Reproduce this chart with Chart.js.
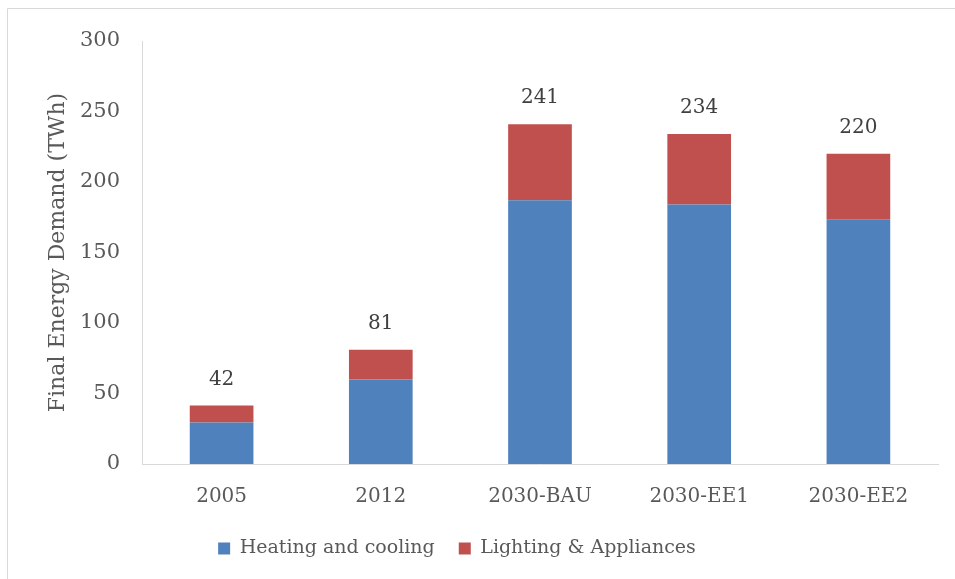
<!DOCTYPE html>
<html>
<head>
<meta charset="utf-8">
<script src="https://cdn.jsdelivr.net/npm/chart.js@4.4.1/dist/chart.umd.min.js"></script>
<style>
html,body{margin:0;padding:0;background:#fff;}
#wrap{width:955px;height:579px;position:relative;}
</style>
</head>
<body>
<div id="wrap"><canvas id="c" width="955" height="579"></canvas></div>
<script>
const categories = ['2005', '2012', '2030-BAU', '2030-EE1', '2030-EE2'];
const heatingCooling = [29.5, 60, 187, 184, 173.5];
const lightingAppliances = [12, 21, 54, 50, 46.5];
const totals = [42, 81, 241, 234, 220];
const yTicks = [0, 50, 100, 150, 200, 250, 300];

const FONT = "'DejaVu Serif', serif";
const TXT = '#595959';

const frame = {
  id: 'frame',
  beforeDraw(chart) {
    const ctx = chart.ctx;
    ctx.save();
    ctx.strokeStyle = '#D9D9D9';
    ctx.lineWidth = 1;
    ctx.beginPath();
    ctx.moveTo(7.5, 579);
    ctx.lineTo(7.5, 8.5);
    ctx.lineTo(955, 8.5);
    ctx.stroke();
    ctx.restore();
  }
};

const totalsLabels = {
  id: 'totalsLabels',
  afterDatasetsDraw(chart) {
    const ctx = chart.ctx;
    const meta = chart.getDatasetMeta(1);
    ctx.save();
    ctx.font = '20px ' + FONT;
    ctx.fillStyle = '#404040';
    ctx.textAlign = 'center';
    ctx.textBaseline = 'middle';
    meta.data.forEach((bar, i) => {
      ctx.fillText(String(totals[i]), bar.x, bar.y - 26);
    });
    ctx.restore();
  }
};

const legendShift = {
  id: 'legendShift',
  afterLayout(chart) {
    const lg = chart.legend;
    if (lg) { lg.left -= 16; lg.right -= 16; }
  }
};

new Chart(document.getElementById('c'), {
  type: 'bar',
  data: {
    labels: categories,
    datasets: [
      { label: 'Heating and cooling', data: heatingCooling, backgroundColor: '#4F81BD' },
      { label: 'Lighting & Appliances', data: lightingAppliances, backgroundColor: '#C0504D' }
    ]
  },
  options: {
    responsive: false,
    animation: false,
    devicePixelRatio: 1,
    layout: { padding: { left: 8, top: 41, right: 17, bottom: 11 } },
    plugins: {
      tooltip: { enabled: false },
      legend: {
        position: 'bottom',
        labels: {
          font: { family: FONT, size: 19 },
          color: TXT,
          boxWidth: 12,
          boxHeight: 12,
          padding: 24
        }
      }
    },
    datasets: { bar: { categoryPercentage: 1, barPercentage: 0.4 } },
    scales: {
      x: {
        stacked: true,
        grid: { display: false, drawTicks: false },
        border: { color: '#D9D9D9', width: 1 },
        ticks: { font: { family: FONT, size: 20 }, color: TXT, padding: 21 },
        afterFit(s) { s.height = 51; }
      },
      y: {
        stacked: true,
        min: 0, max: 300,
        afterBuildTicks(s) { s.ticks = yTicks.map(v => ({ value: v })); },
        grid: { display: false, drawTicks: false },
        border: { color: '#D9D9D9', width: 1 },
        ticks: { font: { family: FONT, size: 21 }, color: TXT, padding: 22 },
        title: {
          display: true,
          text: 'Final Energy Demand (TWh)',
          font: { family: FONT, size: 22 },
          color: TXT,
          padding: { top: 37, bottom: 0 }
        },
        afterFit(s) { s.width = 134; }
      }
    }
  },
  plugins: [frame, totalsLabels, legendShift]
});
</script>
</body>
</html>
